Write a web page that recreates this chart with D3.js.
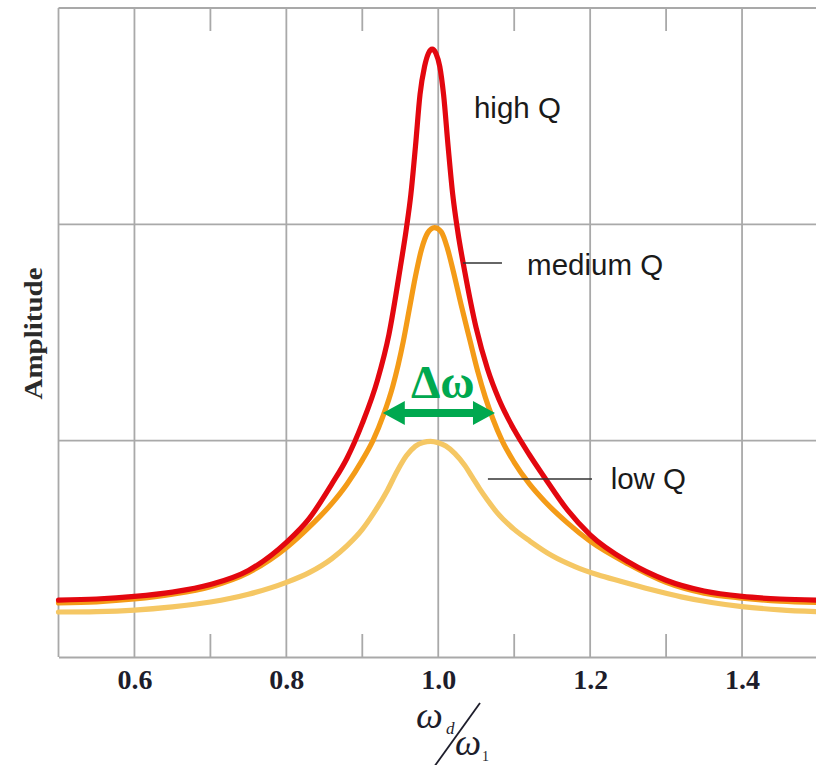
<!DOCTYPE html>
<html>
<head>
<meta charset="utf-8">
<script src="https://cdn.jsdelivr.net/npm/d3@7/dist/d3.min.js"></script>
<style>
  html, body { margin: 0; padding: 0; background: #ffffff; }
  svg { display: block; }
</style>
</head>
<body>
<div id="chart"></div>
<script>
// ---------------- data ----------------
const highQ_w   = [0.50, 0.55, 0.60, 0.65, 0.70, 0.75, 0.80, 0.83, 0.86, 0.88, 0.90, 0.92, 0.935, 0.95, 0.958, 0.964, 0.970, 0.976, 0.982, 0.987, 0.992, 0.997, 1.002, 1.007, 1.013, 1.019, 1.026, 1.035, 1.05, 1.065, 1.08, 1.10, 1.12, 1.14, 1.17, 1.20, 1.25, 1.30, 1.35, 1.40, 1.45, 1.50];
const highQ_amp = [0.263, 0.268, 0.28, 0.30, 0.335, 0.40, 0.53, 0.64, 0.80, 0.92, 1.08, 1.28, 1.49, 1.80, 1.98, 2.14, 2.36, 2.60, 2.73, 2.79, 2.81, 2.79, 2.73, 2.60, 2.36, 2.14, 1.96, 1.78, 1.52, 1.33, 1.19, 1.05, 0.935, 0.83, 0.68, 0.565, 0.44, 0.355, 0.305, 0.28, 0.268, 0.263];

const medQ_w    = [0.50, 0.55, 0.60, 0.65, 0.70, 0.75, 0.80, 0.83, 0.86, 0.88, 0.90, 0.914, 0.928, 0.94, 0.954, 0.962, 0.970, 0.978, 0.986, 0.995, 1.004, 1.012, 1.020, 1.030, 1.042, 1.052, 1.062, 1.072, 1.084, 1.10, 1.12, 1.14, 1.17, 1.20, 1.25, 1.30, 1.35, 1.40, 1.45, 1.50];
const medQ_amp  = [0.25, 0.255, 0.268, 0.29, 0.325, 0.39, 0.505, 0.60, 0.71, 0.80, 0.91, 1.00, 1.12, 1.25, 1.46, 1.61, 1.76, 1.885, 1.96, 1.985, 1.965, 1.89, 1.78, 1.63, 1.46, 1.32, 1.20, 1.10, 1.00, 0.90, 0.80, 0.72, 0.62, 0.535, 0.43, 0.345, 0.295, 0.272, 0.258, 0.252];

const lowQ_w    = [0.50, 0.55, 0.60, 0.65, 0.70, 0.75, 0.80, 0.83, 0.86, 0.88, 0.90, 0.915, 0.933, 0.946, 0.958, 0.970, 0.980, 0.990, 1.000, 1.010, 1.022, 1.035, 1.045, 1.055, 1.065, 1.078, 1.10, 1.121, 1.15, 1.18, 1.21, 1.24, 1.28, 1.32, 1.36, 1.40, 1.45, 1.50];
const lowQ_amp  = [0.208, 0.21, 0.217, 0.232, 0.254, 0.29, 0.345, 0.39, 0.455, 0.515, 0.59, 0.665, 0.77, 0.86, 0.93, 0.975, 0.992, 0.997, 0.99, 0.975, 0.94, 0.885, 0.83, 0.775, 0.725, 0.665, 0.59, 0.535, 0.468, 0.418, 0.38, 0.35, 0.312, 0.278, 0.252, 0.233, 0.218, 0.209];

const xMajorTicks = [0.6, 0.8, 1.0, 1.2, 1.4];
const xTickLabels = ["0.6", "0.8", "1.0", "1.2", "1.4"];
const xMinorTicks = [0.7, 0.9, 1.1, 1.3];
const yGridLines  = [1, 2, 3];

const seriesNames  = ["low Q", "medium Q", "high Q"];
const seriesColors = ["#f5c764", "#f49b17", "#e3070f"];

// annotation anchors in data units [w, amplitude]
const labelPos   = [[1.227, 0.777], [1.117, 1.766], [1.047, 2.49]];
const leaderLow  = [[1.0654, 0.823], [1.2024, 0.823]];
const leaderMed  = [[1.0326, 1.821], [1.0839, 1.821]];
const deltaArrow = [[0.927, 1.128], [1.0747, 1.128]];
const deltaLabel = [1.006, 1.197];

// ---------------- layout ----------------
const W = 816, H = 765;
const x = d3.scaleLinear().domain([0.5, 1.5]).range([58.5, 818]);
const y = d3.scaleLinear().domain([0, 3]).range([657, 8]);

const svg = d3.select("#chart").append("svg")
  .attr("width", W).attr("height", H);

const gridColor = "#a9a9a9";
const serif = "'Liberation Serif', 'Times New Roman', serif";

// gridlines
svg.append("g").selectAll("line").data(xMajorTicks).join("line")
  .attr("x1", d => x(d)).attr("x2", d => x(d))
  .attr("y1", y(0)).attr("y2", y(3))
  .attr("stroke", gridColor).attr("stroke-width", 1.8);
svg.append("g").selectAll("line").data(yGridLines).join("line")
  .attr("x1", x(0.5)).attr("x2", W)
  .attr("y1", d => y(d)).attr("y2", d => y(d))
  .attr("stroke", gridColor).attr("stroke-width", 1.8);

// left frame
svg.append("line")
  .attr("x1", x(0.5)).attr("x2", x(0.5)).attr("y1", y(0)).attr("y2", y(3))
  .attr("stroke", gridColor).attr("stroke-width", 1.8);

// bottom axis
const xAxis = d3.axisBottom(x)
  .tickValues(xMajorTicks)
  .tickFormat((d, i) => xTickLabels[i])
  .tickSize(0).tickPadding(12);
const gx = svg.append("g").attr("transform", `translate(0,${y(0)})`).call(xAxis);
gx.select(".domain").attr("stroke", gridColor).attr("stroke-width", 2);
gx.selectAll("text")
  .attr("font-family", serif)
  .attr("font-size", 28).attr("font-weight", "bold")
  .attr("fill", "#1d1d2b");

// minor ticks bottom + top
svg.append("g").selectAll("line").data(xMinorTicks).join("line")
  .attr("x1", d => x(d)).attr("x2", d => x(d))
  .attr("y1", y(0)).attr("y2", y(0) - 23)
  .attr("stroke", gridColor).attr("stroke-width", 1.8);
svg.append("g").selectAll("line").data(xMinorTicks).join("line")
  .attr("x1", d => x(d)).attr("x2", d => x(d))
  .attr("y1", y(3)).attr("y2", y(3) + 23)
  .attr("stroke", gridColor).attr("stroke-width", 1.8);

// curves
const line = d3.line().x(d => x(d[0])).y(d => y(d[1])).curve(d3.curveMonotoneX);
const series = [
  d3.zip(lowQ_w, lowQ_amp),
  d3.zip(medQ_w, medQ_amp),
  d3.zip(highQ_w, highQ_amp)
];
svg.append("g").selectAll("path").data(series).join("path")
  .attr("d", line)
  .attr("fill", "none")
  .attr("stroke", (d, i) => seriesColors[i])
  .attr("stroke-width", 5.2)
  .attr("stroke-linejoin", "round").attr("stroke-linecap", "round");

// series labels
svg.append("g").selectAll("text").data(seriesNames).join("text")
  .attr("x", (d, i) => x(labelPos[i][0]))
  .attr("y", (d, i) => y(labelPos[i][1]))
  .attr("font-family", "'Liberation Sans', Arial, sans-serif")
  .attr("font-size", 29.5)
  .attr("fill", "#1a1a1a")
  .text(d => d);

// leader lines
[leaderLow, leaderMed].forEach(seg => {
  svg.append("line")
    .attr("x1", x(seg[0][0])).attr("y1", y(seg[0][1]))
    .attr("x2", x(seg[1][0])).attr("y2", y(seg[1][1]))
    .attr("stroke", "#333").attr("stroke-width", 1.6);
});

// delta-omega arrow
const green = "#00a84f";
const ax1 = x(deltaArrow[0][0]), ax2 = x(deltaArrow[1][0]), ay = y(deltaArrow[0][1]);
const hl = 22, hh = 12, sh = 4;
svg.append("path")
  .attr("d", `M${ax1},${ay} L${ax1 + hl},${ay - hh} L${ax1 + hl},${ay - sh} L${ax2 - hl},${ay - sh} L${ax2 - hl},${ay - hh} L${ax2},${ay} L${ax2 - hl},${ay + hh} L${ax2 - hl},${ay + sh} L${ax1 + hl},${ay + sh} L${ax1 + hl},${ay + hh} Z`)
  .attr("fill", green);
svg.append("text")
  .attr("x", x(deltaLabel[0])).attr("y", y(deltaLabel[1]))
  .attr("text-anchor", "middle")
  .attr("font-family", serif)
  .attr("font-size", 47).attr("font-weight", "bold")
  .attr("fill", green)
  .text("Δω");

// y label
svg.append("text")
  .attr("transform", `translate(42,${y(1.5) + 1}) rotate(-90)`)
  .attr("text-anchor", "middle")
  .attr("font-family", serif)
  .attr("font-size", 25).attr("font-weight", "bold")
  .attr("fill", "#2a2a2a")
  .attr("textLength", 132).attr("lengthAdjust", "spacingAndGlyphs")
  .text("Amplitude");

// x label: ω_d / ω_1
const xl = svg.append("g").attr("fill", "#1d1d2b").attr("font-family", serif).attr("font-style", "italic");
xl.append("text").attr("x", 416).attr("y", 728).attr("font-size", 38).text("ω");
xl.append("text").attr("x", 446).attr("y", 734).attr("font-size", 17).text("d");
xl.append("text").attr("x", 455).attr("y", 755).attr("font-size", 37).text("ω");
xl.append("text").attr("x", 482).attr("y", 761).attr("font-size", 14).attr("font-style", "normal").text("1");
svg.append("line").attr("x1", 480).attr("y1", 703).attr("x2", 434).attr("y2", 767)
  .attr("stroke", "#1d1d2b").attr("stroke-width", 1.8);
</script>
</body>
</html>
